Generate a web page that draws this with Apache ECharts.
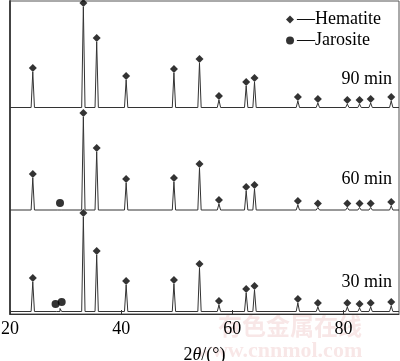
<!DOCTYPE html>
<html><head><meta charset="utf-8">
<script src="https://cdn.jsdelivr.net/npm/echarts@6/dist/echarts.min.js"></script>
<style>html,body{margin:0;padding:0;background:#fff}#c{width:400px;height:361px}</style>
</head><body><div id="c"></div>
<script>
// Hematite peak positions (2θ, degrees)
const hematitePos = [24.1, 33.2, 35.6, 40.9, 49.5, 54.1, 57.6, 62.5, 64.0, 71.8, 75.4, 80.7, 82.9, 84.9, 88.6];
// Peak heights above each trace's baseline (a.u.)
const h90 = [35.5, 100.5, 65.5, 27.5, 34.5, 44.5, 7.5, 21.5, 25.5, 6.5, 4.5, 3.5, 3.5, 4.5, 6.5];
const h60 = [32, 93, 58, 27, 28, 42, 6, 19, 21, 5, 2.5, 2.5, 2.5, 2.5, 4];
const h30 = [29.5, 94.5, 56.5, 26.5, 27.5, 43.5, 6.5, 18.5, 21.5, 8.5, 4.5, 4.5, 3.5, 4.5, 5.5];
// Baseline offsets of the stacked traces (a.u.)
const off90 = 206.5, off60 = 104, off30 = 2.5;
// Jarosite small peaks [2θ, height]
const jaroPeaks60 = [[28.9, 1.5]];
const jaroPeaks30 = [[28.7, 2], [29.0, 3]];
// Jarosite marker positions [2θ, height above baseline]
const jaroMark60 = [[29.0, 7]];
const jaroMark30 = [[28.2, 7.5], [29.3, 9.5]];
const traceLabels = ['90 min', '60 min', '30 min'];
const xTicks = [20, 40, 60, 80];

function buildTrace(off, heights, extra) {
  const peaks = hematitePos.map((p, i) => [p, heights[i]]).concat(extra || []);
  peaks.sort((a, b) => a[0] - b[0]);
  const pts = [[20, off]];
  peaks.forEach(([p, h]) => {
    pts.push([p - 0.3, off]); pts.push([p, off + h]); pts.push([p + 0.3, off]);
  });
  pts.push([90, off]);
  return pts;
}
function marks(off, heights) { return hematitePos.map((p, i) => [p, off + heights[i] + 4]); }

const lineStyle = {color: '#333', width: 1};
const chart = echarts.init(document.getElementById('c'));
const serif = '"Liberation Serif", "Times New Roman", serif';
chart.setOption({
  animation: false,
  grid: {left: 10, right: 1, top: 1, bottom: 47, show: true, borderColor: '#555', borderWidth: 1,
    containLabel: false, outerBoundsMode: 'none'},
  legend: {
    orient: 'vertical', right: 14, top: 4, itemGap: 0, itemWidth: 8, itemHeight: 8,
    data: [{name: 'Hematite', icon: 'diamond'}, {name: 'Jarosite', icon: 'circle'}],
    formatter: n => '\u2014' + n,
    textStyle: {fontFamily: serif, fontSize: 18, color: '#000', lineHeight: 21, padding: [0,0,0,-2]}
  },
  xAxis: {
    type: 'value', min: 20, max: 90, interval: 20,
    axisLine: {lineStyle: {color: '#333', width: 1}},
    axisTick: {inside: true, length: 4, lineStyle: {color: '#333'}},
    axisLabel: {fontFamily: serif, fontSize: 18, color: '#000', margin: 6, showMaxLabel: false,
      formatter: v => xTicks.indexOf(v) >= 0 ? String(v) : ''},
    splitLine: {show: false},
    name: '{a|2}{b|θ}{a|/(°)}', nameLocation: 'middle', nameGap: 32,
    nameTextStyle: {rich: {a: {fontFamily: serif, fontSize: 18, color: '#000'}, b: {fontFamily: serif, fontSize: 18, fontStyle: 'italic', color: '#000'}}}
  },
  yAxis: {
    type: 'value', min: 0, max: 313,
    axisLine: {show: true, lineStyle: {color: '#444', width: 2}},
    axisTick: {show: false}, axisLabel: {show: false}, splitLine: {show: false}
  },
  series: [
    {type: 'line', data: buildTrace(off90, h90), showSymbol: false, lineStyle, silent: true},
    {type: 'line', data: buildTrace(off60, h60, jaroPeaks60), showSymbol: false, lineStyle, silent: true},
    {type: 'line', data: buildTrace(off30, h30, jaroPeaks30), showSymbol: false, lineStyle, silent: true},
    {name: 'Hematite', type: 'scatter', symbol: 'diamond', symbolSize: 8, itemStyle: {color: '#000'},
      data: marks(off90, h90).concat(marks(off60, h60), marks(off30, h30))},
    {name: 'Jarosite', type: 'scatter', symbol: 'circle', symbolSize: 8, itemStyle: {color: '#000'},
      data: jaroMark60.map(([p, h]) => [p, off60 + h]).concat(jaroMark30.map(([p, h]) => [p, off30 + h]))}
  ],
  graphic: [
    {type: 'text', right: 8, top: 70, style: {text: traceLabels[0], font: '18px ' + serif, fill: '#000'}},
    {type: 'text', right: 8, top: 170, style: {text: traceLabels[1], font: '18px ' + serif, fill: '#000'}},
    {type: 'text', right: 8, top: 273, style: {text: traceLabels[2], font: '18px ' + serif, fill: '#000'}},
    {type: 'text', left: 218, top: 314, z: -1, style: {text: '有色金属在线', font: 'bold 24px "Noto Sans CJK SC"', fill: 'rgba(215,120,120,0.18)', letterSpacing: 5}},
    {type: 'text', left: 196, top: 340, z: -1, style: {text: 'www.cnnmol.com', font: 'bold 22px ' + serif, fill: 'rgba(215,120,120,0.18)'}}
  ]
});
</script></body></html>
